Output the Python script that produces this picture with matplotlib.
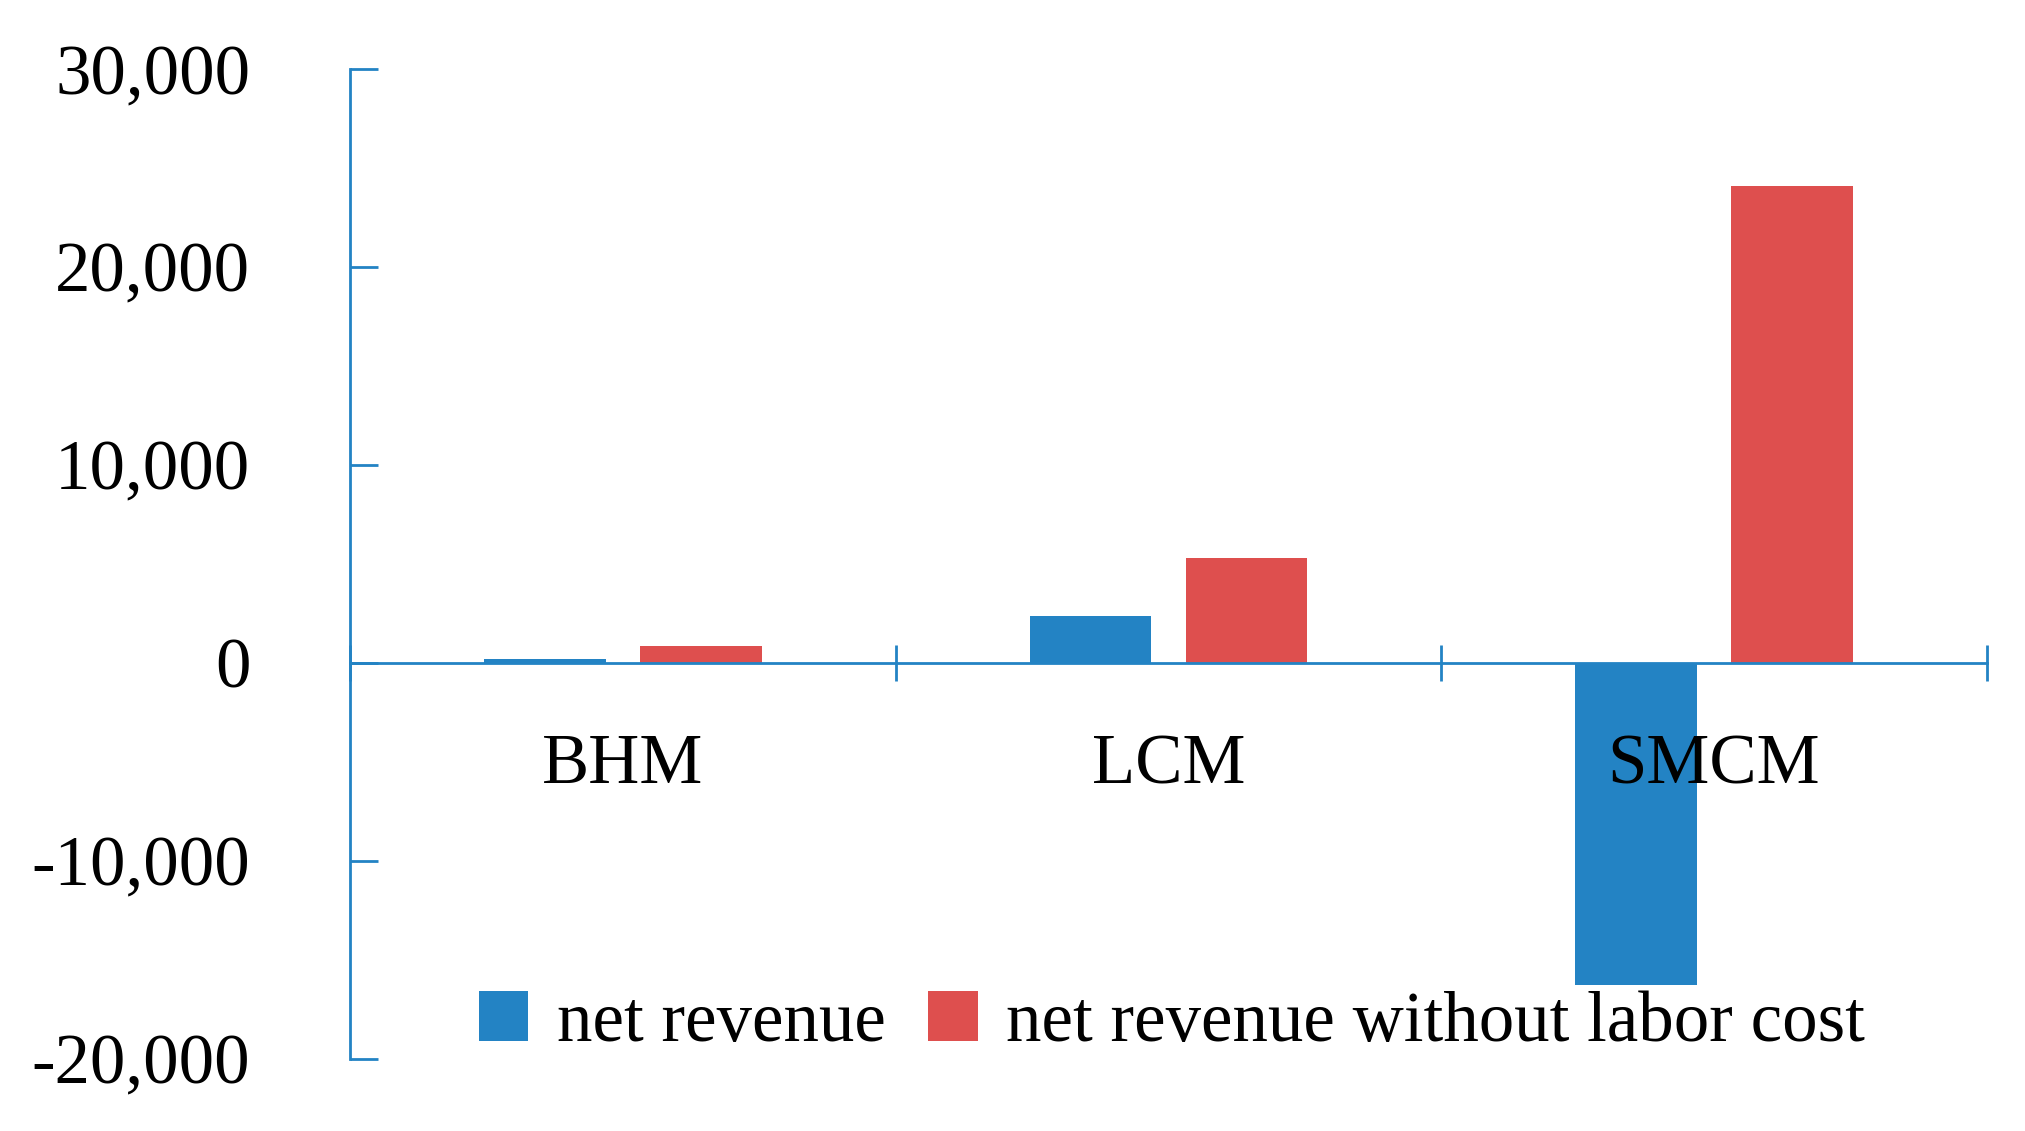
import matplotlib.pyplot as plt
import numpy as np

categories = ['BHM', 'LCM', 'SMCM']
net_revenue = [200, 2350, -16300]
net_revenue_no_labor = [850, 5300, 24100]
y_ticks = [-20000, -10000, 0, 10000, 20000, 30000]

blue = '#2383C4'
red = '#DE4F4E'
plt.rcParams['font.family'] = ['Liberation Serif', 'DejaVu Serif']

fig = plt.figure(figsize=(20.25, 11.31), dpi=100)
ax = fig.add_axes([0.173, 0.064, 0.808, 0.875])

x = np.arange(len(categories))
w = 0.223
ax.bar(x - 0.143, net_revenue, w, color=blue, label='net revenue')
ax.bar(x + 0.143, net_revenue_no_labor, w, color=red, label='net revenue without labor cost')

ax.set_xlim(-0.5, 2.5)
ax.set_ylim(-20000, 30000)
ax.set_yticks(y_ticks)
ax.set_yticklabels([f'{v:,}' for v in y_ticks], fontsize=51)
ax.tick_params(axis='y', direction='in', length=20, width=2, color=blue, pad=72)

ax.spines['bottom'].set_position(('data', 0))
for s in ['top', 'right']:
    ax.spines[s].set_visible(False)
for s in ['left', 'bottom']:
    ax.spines[s].set_color(blue)
    ax.spines[s].set_linewidth(2)
ax.set_xticks([-0.5, 0.5, 1.5, 2.5])
ax.set_xticklabels([])
ax.tick_params(axis='x', direction='inout', length=26, width=2, color=blue)

for i, c in enumerate(categories):
    ax.text(i, -5200, c, ha='center', va='center', fontsize=51)

fig.legend(loc='lower left', bbox_to_anchor=(0.205, 0.01), ncol=2, frameon=False,
           fontsize=51, handlelength=0.7, handleheight=0.7, handletextpad=0.4,
           columnspacing=0.6)

fig.savefig('out.png', dpi=100)
